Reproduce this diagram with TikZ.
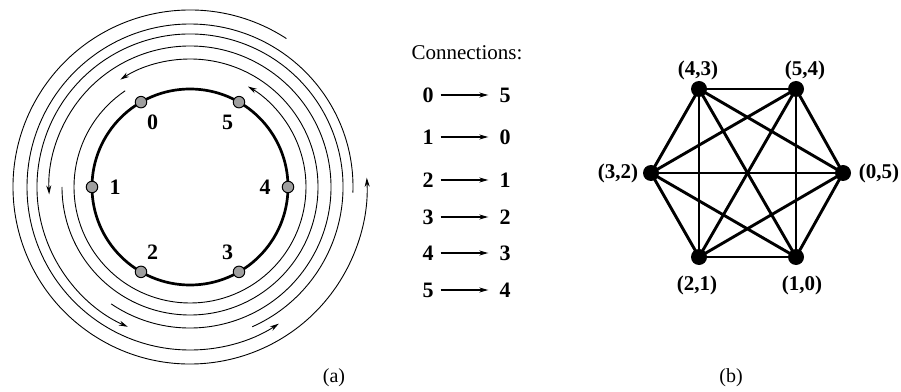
\documentclass[tikz,border=0pt]{standalone}
\usepackage{fontspec}
\setmainfont{Liberation Serif}
\usetikzlibrary{arrows.meta}
\begin{document}
\begin{tikzpicture}[x=1pt,y=1pt,
  ring/.style={line width=0.9pt, -{Stealth[length=9pt,width=5pt]}},
  site/.style={circle, draw=black, line width=1pt, fill=gray!75, minimum size=11.5pt, inner sep=0pt},
  sitelbl/.style={font=\fontsize{22}{24}\selectfont\bfseries, inner sep=0pt},
  digit/.style={font=\fontsize{22}{24}\selectfont\bfseries, inner sep=0pt},
  conn/.style={line width=1.4pt, -{Stealth[length=9pt,width=5pt]}, shorten <=7pt, shorten >=11pt},
  gnode/.style={circle, fill=black, minimum size=16pt, inner sep=0pt},
  glbl/.style={font=\fontsize{21}{24}\selectfont\bfseries, inner sep=0pt},
  gedge/.style={line width=2.9pt},
  captext/.style={font=\fontsize{20}{24}\selectfont, inner sep=0pt}]
\useasboundingbox (0,0) rectangle (901,391);
% ---------- (a) ring ----------
\coordinate (C) at (190,204);
\draw[line width=2.7pt] (C) circle[radius=98];
\foreach \i/\ang in {0/120, 1/180, 2/240, 3/300, 4/0, 5/60}{
  \node[site] (s\i) at ([shift={(\ang:98)}]C) {};
  \node[sitelbl] (l\i) at ([shift={(\ang:75)}]C) {\i};
}
% connection arcs (counter-clockwise, 300 degrees each)
\foreach \s/\e/\r in {124/420/116, 180/483/128, 236/543/141, 294/606/153, 358/663/163, 57/363/177}{
  \draw[ring] ([shift={(\s:\r)}]C) arc[start angle=\s, end angle=\e, radius=\r];
}
\node[captext] (capa) at (334,13) {(a)};
% ---------- connections list ----------
\node[font=\fontsize{21}{24}\selectfont, inner sep=0pt] (title) at (467,338) {Connections:};
\foreach \k/\f/\t/\y in {1/0/5/296, 2/1/0/254, 3/2/1/211, 4/3/2/174, 5/4/3/138, 6/5/4/101}{
  \node[digit] (a\k) at (428,\y) {\f};
  \node[digit] (b\k) at (505,\y) {\t};
  \draw[conn] (a\k) -- (b\k);
}
% ---------- (b) complete graph ----------
\node[gnode] (n43) at (699,302) {};
\node[gnode] (n54) at (796,302) {};
\node[gnode] (n32) at (651,218) {};
\node[gnode] (n05) at (843,218) {};
\node[gnode] (n21) at (699,134) {};
\node[gnode] (n10) at (796,134) {};
\foreach \u/\v in {n43/n54, n43/n32, n43/n05, n43/n21, n43/n10,
                   n54/n32, n54/n05, n54/n21, n54/n10,
                   n32/n05, n32/n21, n32/n10,
                   n05/n21, n05/n10,
                   n21/n10}{
  \draw[gedge] (\u.center) -- (\v.center);
}
\node[glbl] (t43) at (698,321) {(4,3)};
\node[glbl] (t54) at (805,321) {(5,4)};
\node[glbl] (t32) at (618,218) {(3,2)};
\node[glbl] (t05) at (879,218) {(0,5)};
\node[glbl] (t21) at (697,106) {(2,1)};
\node[glbl] (t10) at (802,106) {(1,0)};
\node[captext] (capb) at (731,13) {(b)};
\end{tikzpicture}
\end{document}
